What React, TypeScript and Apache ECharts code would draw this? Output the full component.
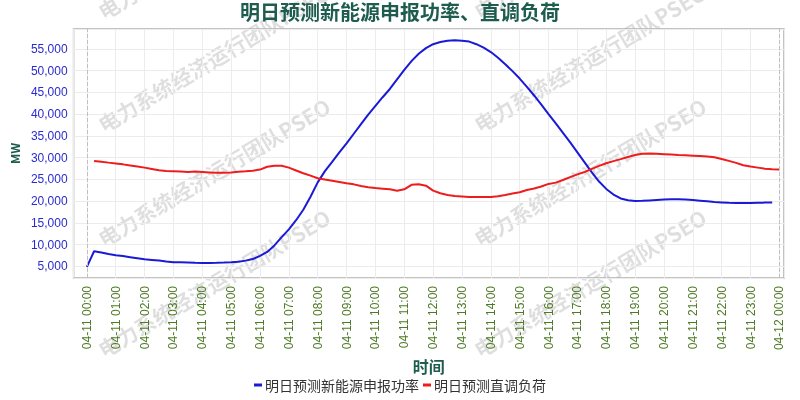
import React, { useEffect, useRef } from "react";
import * as echarts from "echarts";

const titleText = "明日预测新能源申报功率、直调负荷";
const seriesNames = ["明日预测新能源申报功率", "明日预测直调负荷"];
const datePrefix = ["04-11", "04-12"];
const watermarkText = "电力系统经济运行团队PSEO";

// 15-minute steps, blue from 00:00 to 23:45
const renewableValues = [
  4850, 8450, 8150, 7800,
  7550, 7350, 7100, 6850,
  6600, 6450, 6300, 6100,
  5950, 5900, 5850, 5800,
  5780, 5780, 5800, 5850,
  5920, 6050, 6300, 6650,
  7400, 8300, 9800, 11700,
  13500, 15600, 18000, 21000,
  24300, 26900, 29000, 31200,
  33300, 35500, 37700, 39900,
  41900, 43900, 45800, 48000,
  50200, 52200, 53900, 55200,
  56100, 56600, 56900, 57000,
  56900, 56700, 56100, 55300,
  54300, 53000, 51500, 49900,
  48200, 46300, 44300, 42200,
  40000, 37900, 35700, 33500,
  31200, 28900, 26600, 24500,
  22800, 21500, 20600, 20200,
  20000, 20050, 20150, 20250,
  20350, 20400, 20400, 20350,
  20250, 20100, 19950, 19800,
  19700, 19600, 19550, 19550,
  19550, 19600, 19650, 19700,
];

// 15-minute steps, red from 00:15 to 24:00
const loadValues = [
  29200, 29050, 28850, 28650,
  28450, 28200, 27950, 27700,
  27400, 27100, 26900, 26850,
  26800, 26700, 26780, 26700,
  26600, 26500, 26500, 26600,
  26750, 26850, 27000, 27250,
  27900, 28150, 28150, 27700,
  27050, 26400, 25850, 25250,
  24950, 24700, 24400, 24100,
  23850, 23450, 23200, 23000,
  22850, 22700, 22400, 22700,
  23750, 23850, 23550, 22400,
  21800, 21400, 21150, 21050,
  20950, 20950, 20950, 20950,
  21100, 21400, 21750, 22050,
  22550, 22900, 23350, 23950,
  24250, 24850, 25500, 26150,
  26700, 27400, 28100, 28700,
  29200, 29650, 30150, 30600,
  30900, 30950, 30900, 30800,
  30700, 30600, 30550, 30450,
  30350, 30250, 30100, 29700,
  29250, 28800, 28250, 27950,
  27700, 27450, 27300, 27250,
];

const watermarkXs = [105, 481];
const watermarkYs = [22, 135, 249, 360];

export default function App() {
  const ref = useRef<HTMLDivElement>(null);

  useEffect(() => {
    if (!ref.current) return;
    const chart = echarts.init(ref.current, null, { renderer: "svg" });

    const step = 0.25;
    const blueData = renewableValues.map((v, i) => [i * step, v]);
    const redData = loadValues.map((v, i) => [(i + 1) * step, v]);

    const graphics: any[] = [];
    watermarkXs.forEach((x) => {
      watermarkYs.forEach((y) => {
        graphics.push({
          type: "text",
          x,
          y,
          rotation: (30.8 * Math.PI) / 180,
          z: -1,
          silent: true,
          style: {
            text: watermarkText,
            fill: "rgba(0,0,0,0.13)",
            font: 'bold 21px "Noto Sans CJK SC", sans-serif',
            textAlign: "left",
            textVerticalAlign: "bottom",
            align: "left",
            verticalAlign: "bottom",
          },
        });
      });
    });

    const fmtLabel = (v: number) => {
      const r = Math.round(v * 1000) / 1000;
      if (Math.abs(r - Math.round(r)) > 1e-6) return "";
      const h = Math.round(r);
      if (h < 0 || h > 24) return "";
      const day = h === 24 ? datePrefix[1] : datePrefix[0];
      const hh = String(h % 24).padStart(2, "0");
      return `${day} ${hh}:00`;
    };

    chart.setOption({
      animation: false,
      textStyle: { fontFamily: '"Noto Sans CJK SC", "Noto Sans", sans-serif' },
      title: {
        text: titleText,
        left: "center",
        top: 0,
        padding: [1, 0, 0, 0],
        textStyle: {
          fontSize: 20,
          fontWeight: "bold",
          color: "#1d5c4e",
          fontFamily: '"Noto Sans CJK SC", sans-serif',
        },
      },
      legend: {
        data: seriesNames,
        left: "center",
        top: 378,
        padding: 0,
        icon: "rect",
        itemWidth: 8,
        itemHeight: 3,
        itemGap: 4,
        textStyle: { fontSize: 14, color: "#333", padding: [0, 0, 0, -2] },
      },
      grid: {
        left: 70,
        right: 16,
        top: 29,
        bottom: 122,
        show: true,
        borderColor: "#b0b0b0",
        borderWidth: 1.5,
        containLabel: false,
      },
      xAxis: {
        type: "value",
        min: -0.46,
        max: 24.16,
        splitNumber: 24,
        minInterval: 1,
        maxInterval: 1,
        name: "时间",
        nameLocation: "middle",
        nameGap: 76,
        nameTextStyle: { fontSize: 16, fontWeight: "bold", color: "#1d5c4e" },
        axisLine: { show: false },
        axisTick: { show: false },
        splitLine: { show: true, lineStyle: { color: "#ececec", width: 1 } },
        axisLabel: {
          rotate: 90,
          margin: 8,
          fontSize: 12,
          color: "#4f7a25",
          fontFamily: '"Liberation Sans", Arial, sans-serif',
          formatter: fmtLabel,
          showMinLabel: false,
          showMaxLabel: false,
        },
      },
      yAxis: {
        type: "value",
        min: 2300,
        max: 59600,
        splitNumber: 11,
        minInterval: 5000,
        maxInterval: 5000,
        name: "MW",
        nameLocation: "middle",
        nameGap: 52,
        nameRotate: 90,
        nameTextStyle: { fontSize: 12, fontWeight: "bold", color: "#1d5c4e" },
        axisLine: { show: false },
        axisTick: { show: false },
        splitLine: { show: true, lineStyle: { color: "#ececec", width: 1 } },
        axisLabel: {
          fontSize: 12,
          color: "#2a2ad0",
          margin: 6,
          fontFamily: '"Liberation Sans", Arial, sans-serif',
          showMinLabel: false,
          showMaxLabel: false,
          formatter: (v: number) =>
            v % 5000 === 0 ? v.toLocaleString("en-US") : "",
        },
      },
      graphic: graphics,
      series: [
        {
          name: seriesNames[0],
          type: "line",
          data: blueData,
          showSymbol: false,
          symbol: "none",
          smooth: false,
          lineStyle: { color: "#1a1ad6", width: 2 },
          itemStyle: { color: "#1a1ad6" },
          z: 3,
          markLine: {
            silent: true,
            symbol: "none",
            label: { show: false },
            lineStyle: { color: "#c0c0c0", type: "dashed", width: 1 },
            data: [{ xAxis: 0 }, { xAxis: 24 }],
          },
        },
        {
          name: seriesNames[1],
          type: "line",
          data: redData,
          showSymbol: false,
          symbol: "none",
          smooth: false,
          lineStyle: { color: "#ee1c1c", width: 2 },
          itemStyle: { color: "#ee1c1c" },
          z: 3,
        },
      ],
    });

    return () => chart.dispose();
  }, []);

  return (
    <div
      ref={ref}
      style={{ position: "fixed", left: 0, top: 0, width: 800, height: 400 }}
    />
  );
}
